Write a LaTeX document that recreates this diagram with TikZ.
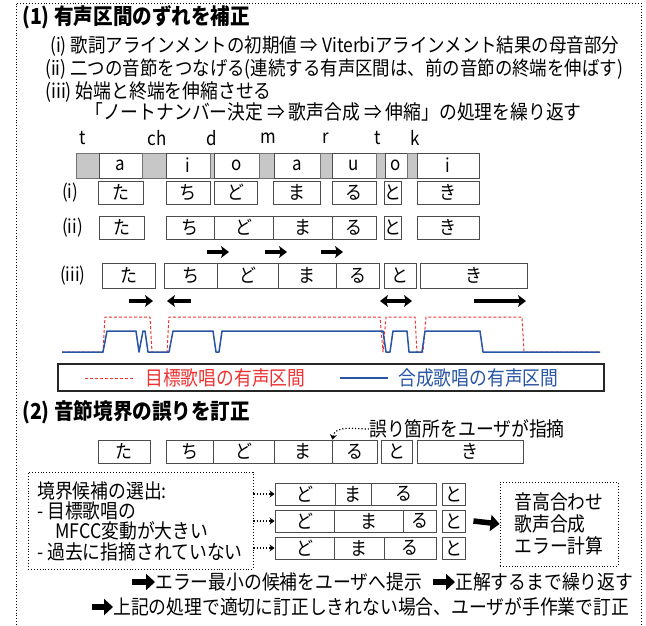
\documentclass[tikz,border=0pt]{standalone}
\usepackage{fontspec}
\setmainfont{Noto Sans CJK JP}[FakeStretch=0.89]
\usetikzlibrary{arrows.meta}
\definecolor{targetred}{RGB}{238,50,50}
\definecolor{synthblue}{RGB}{40,85,165}
\newcommand{\syl}[6][]{\node[sylbox,#1,minimum width={(#4-#3)*1pt}] (#2) at ({(#3+#4)/2},#5) {#6};}

\begin{document}
\begin{tikzpicture}[x=1pt,y=-1pt,
	sylbox/.style={draw=black!70, line width=0.9pt, inner sep=0pt, minimum height=23pt, font=\fontsize{19}{19}\selectfont},
	consbox/.style={fill=black!22, draw=black!55},
	lbl/.style={anchor=west, inner sep=0pt, font=\fontsize{20}{22}\selectfont},
	title/.style={anchor=west, inner sep=0pt, font=\bfseries\fontsize{22}{24}\selectfont},
	fatarrow/.style={line width=3.2pt, -{Stealth[length=8pt,width=12pt,inset=2pt]}},
	blockarrow/.style={line width=5.5pt, -{Triangle[length=9pt,width=16pt]}},
	dotarrow/.style={dotted, line width=1.2pt, -{Stealth[length=5pt,width=7pt]}},
	dotframe/.style={draw, dotted, line width=0.9pt}]
		\useasboundingbox (0,0) rectangle (646,625);
		\draw[dotframe] (16,625) -- (16,3) -- (641,3) -- (641,625);
		
		\node[title] (sec1) at (22,17) {(1) 有声区間のずれを補正};
		\node[lbl, font=\fontsize{19.6}{22}\selectfont] (stepi) at (50,46) {(i) 歌詞アラインメントの初期値 ⇒ Viterbiアラインメント結果の母音部分};
		\node[lbl, font=\fontsize{19.6}{22}\selectfont] (stepii) at (45,69) {(ii) 二つの音節をつなげる(連続する有声区間は、前の音節の終端を伸ばす)};
		\node[lbl] (stepiii) at (45,92) {(iii) 始端と終端を伸縮させる};
		\node[lbl] (loop) at (85,112) {「ノートナンバー決定 ⇒ 歌声合成 ⇒ 伸縮」の処理を繰り返す};
		
		\node[font=\fontsize{19}{19}\selectfont] (ph1) at (83,138) {t};
		\node[font=\fontsize{19}{19}\selectfont] (ph2) at (157,138) {ch};
		\node[font=\fontsize{19}{19}\selectfont] (ph3) at (212,138) {d};
		\node[font=\fontsize{19}{19}\selectfont] (ph4) at (268,138) {m};
		\node[font=\fontsize{19}{19}\selectfont] (ph5) at (326,138) {r};
		\node[font=\fontsize{19}{19}\selectfont] (ph6) at (378,138) {t};
		\node[font=\fontsize{19}{19}\selectfont] (ph7) at (415,138) {k};
		
		\syl[consbox,minimum height=25pt]{c1}{76}{99}{165.5}{}
		\syl[minimum height=25pt]{v1}{99}{142}{165.5}{a}
		\syl[consbox,minimum height=25pt]{c2}{142}{166}{165.5}{}
		\syl[minimum height=25pt]{v2}{166}{210}{165.5}{i}
		\syl[consbox,minimum height=25pt]{c3}{210}{214}{165.5}{}
		\syl[minimum height=25pt]{v3}{214}{259}{165.5}{o}
		\syl[consbox,minimum height=25pt]{c4}{259}{274}{165.5}{}
		\syl[minimum height=25pt]{v4}{274}{320}{165.5}{a}
		\syl[consbox,minimum height=25pt]{c5}{320}{332}{165.5}{}
		\syl[minimum height=25pt]{v5}{332}{376}{165.5}{u}
		\syl[consbox,minimum height=25pt]{c6}{376}{385}{165.5}{}
		\syl[minimum height=25pt]{v6}{385}{407}{165.5}{o}
		\syl[consbox,minimum height=25pt]{c7}{407}{417}{165.5}{}
		\syl[minimum height=25pt]{v7}{417}{479}{165.5}{i}
		
		\node[lbl, font=\fontsize{19}{19}\selectfont] (rowi) at (62,192.5) {(i)};
		\syl{ta1}{98}{143}{192.5}{た}
		\syl{chi1}{166}{210}{192.5}{ち}
		\syl{do1}{214}{257}{192.5}{ど}
		\syl{ma1}{273}{320}{192.5}{ま}
		\syl{ru1}{332}{376}{192.5}{る}
		\syl{to1}{385}{401}{192.5}{と}
		\syl{ki1}{417}{479}{192.5}{き}
		
		\node[lbl, font=\fontsize{19}{19}\selectfont] (rowii) at (62,227.5) {(ii)};
		\syl{ta2}{99}{144}{227.5}{た}
		\syl{chi2}{166}{214}{227.5}{ち}
		\syl{do2}{214}{273}{227.5}{ど}
		\syl{ma2}{273}{332}{227.5}{ま}
		\syl{ru2}{332}{376}{227.5}{る}
		\syl{to2}{385}{401}{227.5}{と}
		\syl{ki2}{417}{479}{227.5}{き}
		
		\coordinate (s1) at (207,252);
		\coordinate (s2) at (265,252);
		\coordinate (s3) at (321,252);
		\draw[fatarrow] (s1) -- ++(22,0);
		\draw[fatarrow] (s2) -- ++(22,0);
		\draw[fatarrow] (s3) -- ++(22,0);
		
		\node[lbl, font=\fontsize{19}{19}\selectfont] (rowiii) at (60,275.5) {(iii)};
		\syl[minimum height=25pt]{ta3}{102}{155}{275.5}{た}
		\syl[minimum height=25pt]{chi3}{164}{217}{275.5}{ち}
		\syl[minimum height=25pt]{do3}{217}{278}{275.5}{ど}
		\syl[minimum height=25pt]{ma3}{278}{336}{275.5}{ま}
		\syl[minimum height=25pt]{ru3}{336}{379}{275.5}{る}
		\syl[minimum height=25pt]{to3}{384}{416}{275.5}{と}
		\syl[minimum height=25pt]{ki3}{420}{527}{275.5}{き}
		
		\draw[fatarrow] (129,301) -- (153,301);
		\draw[fatarrow] (191,301) -- (167,301);
		\draw[fatarrow, {Stealth[length=8pt,width=12pt,inset=2pt]}-{Stealth[length=8pt,width=12pt,inset=2pt]}] (380,301) -- (412,301);
		\draw[fatarrow] (474,301) -- (526,301);
		
		\draw[targetred, line width=1pt, dash pattern=on 3pt off 2pt] (62,352) -- (103,352) -- (105,317) -- (150,317) -- (152,352) -- (167,352) -- (169,317) -- (380,317) -- (383,352) -- (386,317) -- (415,317) -- (417,352) -- (423,352) -- (426,317) -- (522,317) -- (524,352) -- (600,352);
		\draw[synthblue, line width=1.5pt, line join=round] (62,352) -- (103,352) -- (107,331) -- (136,331) -- (139,352) -- (143,331) -- (145,331) -- (148,352) -- (169,352) -- (173,331) -- (213,331) -- (216,352) -- (219,352) -- (222,331) -- (383,331) -- (386,352) -- (390,352) -- (393,331) -- (407,331) -- (409,352) -- (422,352) -- (425,331) -- (480,331) -- (483,352) -- (600,352);
		
		\draw[line width=1.3pt, black!85] (58,364) rectangle (604,391);
		\draw[targetred, line width=1pt, dash pattern=on 3pt off 2pt] (85,378) -- (135,378);
		\node[lbl, text=targetred] (legred) at (145,378) {目標歌唱の有声区間};
		\draw[synthblue, line width=1.3pt] (340,378) -- (388,378);
		\node[lbl, text=synthblue] (legblue) at (398,378) {合成歌唱の有声区間};
		
		\node[title] (sec2) at (22,412) {(2) 音節境界の誤りを訂正};
		\syl{ta4}{98}{150}{451.5}{た}
		\syl{chi4}{166}{213}{451.5}{ち}
		\syl{do4}{213}{274}{451.5}{ど}
		\syl{ma4}{274}{332}{451.5}{ま}
		\syl{ru4}{332}{377}{451.5}{る}
		\syl{to4}{381}{412}{451.5}{と}
		\syl{ki4}{417}{523}{451.5}{き}
		\node[lbl] (hint) at (369,429) {誤り箇所をユーザが指摘};
		\draw[dotarrow] (hint.west) to[out=180,in=80] (ma4.north east);
		
		\node[dotframe, minimum width=225pt, minimum height=97pt] (cand) at (140.5,520.5) {};
		\node[lbl] (cand1) at (37,491) {境界候補の選出:};
		\node[lbl] (cand2) at (37,511) {- 目標歌唱の};
		\node[lbl] (cand3) at (55,531) {MFCC変動が大きい};
		\node[lbl] (cand4) at (37,552) {- 過去に指摘されていない};
		
		\syl[minimum height=22pt]{do5}{275}{335}{494}{ど}
		\syl[minimum height=22pt]{ma5}{335}{371}{494}{ま}
		\syl[minimum height=22pt]{ru5}{371}{436}{494}{る}
		\syl[minimum height=22pt]{to5}{442}{465}{494}{と}
		\syl[minimum height=22pt]{do6}{275}{334}{521}{ど}
		\syl[minimum height=22pt]{ma6}{334}{403}{521}{ま}
		\syl[minimum height=22pt]{ru6}{403}{436}{521}{る}
		\syl[minimum height=22pt]{to6}{442}{465}{521}{と}
		\syl[minimum height=22pt]{do7}{275}{334}{548}{ど}
		\syl[minimum height=22pt]{ma7}{334}{384}{548}{ま}
		\syl[minimum height=22pt]{ru7}{384}{436}{548}{る}
		\syl[minimum height=22pt]{to7}{442}{465}{548}{と}
		
		\draw[dotarrow] (cand.east |- do5.west) -- (do5.west);
		\draw[dotarrow] (cand.east |- do6.west) -- (do6.west);
		\draw[dotarrow] (cand.east |- do7.west) -- (do7.west);
		
		\node[dotframe, minimum width=118pt, minimum height=84pt, align=left, font=\fontsize{20}{22}\selectfont] (calc) at (559,524) {音高合わせ\\歌声合成\\エラー計算};
		\draw[blockarrow] ([xshift=8pt]to6.east) -- (calc.west);
		
		\node[lbl] (show) at (155,582) {エラー最小の候補をユーザへ提示};
		\node[lbl] (repeat) at (455,582) {正解するまで繰り返す};
		\node[lbl] (manual) at (113,607) {上記の処理で適切に訂正しきれない場合、ユーザが手作業で訂正};
		\draw[blockarrow] ([xshift=-23pt]show.west) -- (show.west);
		\draw[blockarrow] ([xshift=-22pt]repeat.west) -- (repeat.west);
		\draw[blockarrow] ([xshift=-21pt]manual.west) -- (manual.west);
\end{tikzpicture}
\end{document}
